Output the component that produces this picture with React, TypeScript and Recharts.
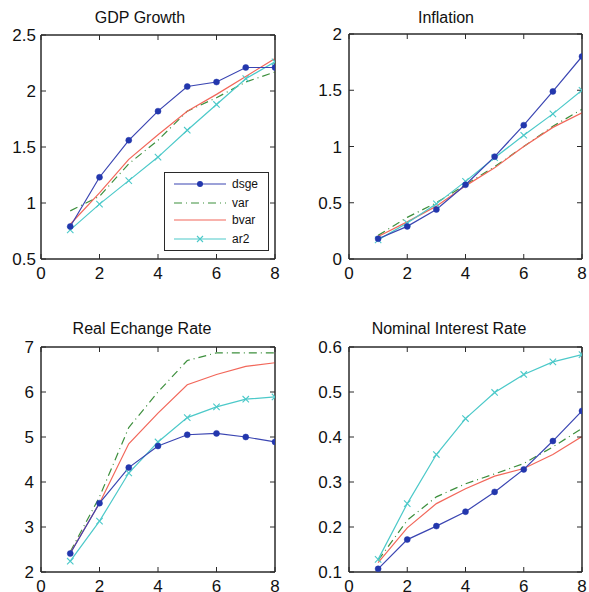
import React from 'react';
import { LineChart, Line, XAxis, YAxis, Legend, CartesianGrid } from 'recharts';

const horizons = [1, 2, 3, 4, 5, 6, 7, 8];
const xTicks = [0, 2, 4, 6, 8];

const gdpDsge = [0.79, 1.23, 1.56, 1.82, 2.04, 2.08, 2.21, 2.21];
const gdpVar = [0.93, 1.06, 1.35, 1.56, 1.82, 1.94, 2.08, 2.17];
const gdpBvar = [0.81, 1.09, 1.39, 1.61, 1.82, 1.97, 2.13, 2.29];
const gdpAr2 = [0.76, 0.99, 1.2, 1.41, 1.65, 1.88, 2.11, 2.26];
const gdpTicks = [0.5, 1, 1.5, 2, 2.5];

const infDsge = [0.18, 0.29, 0.44, 0.66, 0.91, 1.19, 1.49, 1.8];
const infVar = [0.21, 0.37, 0.5, 0.66, 0.82, 1.0, 1.18, 1.33];
const infBvar = [0.2, 0.33, 0.47, 0.65, 0.81, 1.0, 1.17, 1.3];
const infAr2 = [0.17, 0.32, 0.49, 0.69, 0.9, 1.1, 1.29, 1.5];
const infTicks = [0, 0.5, 1, 1.5, 2];

const rerDsge = [2.41, 3.53, 4.32, 4.8, 5.05, 5.08, 5.0, 4.89];
const rerVar = [2.45, 3.67, 5.21, 6.0, 6.7, 6.87, 6.87, 6.87];
const rerBvar = [2.42, 3.53, 4.85, 5.53, 6.16, 6.39, 6.57, 6.65];
const rerAr2 = [2.24, 3.13, 4.2, 4.89, 5.43, 5.67, 5.84, 5.89];
const rerTicks = [2, 3, 4, 5, 6, 7];

const nirDsge = [0.107, 0.172, 0.202, 0.234, 0.278, 0.328, 0.391, 0.458];
const nirVar = [0.126, 0.215, 0.267, 0.296, 0.318, 0.341, 0.378, 0.419];
const nirBvar = [0.121, 0.198, 0.252, 0.285, 0.313, 0.33, 0.361, 0.401];
const nirAr2 = [0.128, 0.252, 0.361, 0.441, 0.499, 0.539, 0.567, 0.583];
const nirTicks = [0.1, 0.2, 0.3, 0.4, 0.5, 0.6];

const seriesNames = ['dsge', 'var', 'bvar', 'ar2'];

const FONT = '"Liberation Sans", Arial, Helvetica, sans-serif';
const BLUE = '#3a45b2';
const BLUE_DOT = '#2337ad';
const GREEN = '#3d8f3d';
const RED = '#f2675a';
const CYAN = '#4cc9c9';
const AXIS = '#2a2a2a';

const styles: Record<string, any> = {
  dsge: { stroke: BLUE, dash: undefined },
  var: { stroke: GREEN, dash: '8 4 1 4' },
  bvar: { stroke: RED, dash: undefined },
  ar2: { stroke: CYAN, dash: undefined },
};

function buildRows(d: number[], v: number[], b: number[], a: number[]) {
  return horizons.map((h, i) => ({ h, dsge: d[i], var: v[i], bvar: b[i], ar2: a[i] }));
}

const frameRows = (args: any) => {
  const o = args && args.offset;
  if (!o) return [];
  return [o.top, o.top + o.height];
};
const frameCols = (args: any) => {
  const o = args && args.offset;
  if (!o) return [];
  return [o.left, o.left + o.width];
};

const CrossDot = (props: any) => {
  const { cx, cy, index } = props;
  if (cx == null || cy == null) return null;
  const s = 3.2;
  return (
    <path
      key={`x-${index}`}
      d={`M${cx - s},${cy - s}L${cx + s},${cy + s}M${cx - s},${cy + s}L${cx + s},${cy - s}`}
      stroke={CYAN}
      strokeWidth={1.1}
      fill="none"
    />
  );
};

const LegendBox = (props: any) => {
  const payload = props.payload || [];
  const names = seriesNames.filter((n) => payload.some((p: any) => p.value === n));
  const rowY = [12, 31, 48, 67];
  return (
    <div
      style={{
        width: 105,
        height: 79,
        boxSizing: 'border-box',
        border: `1px solid ${AXIS}`,
        background: '#fff',
        position: 'relative',
        fontFamily: FONT,
        fontSize: 12,
        color: '#111',
      }}
    >
      <svg width={103} height={77} style={{ position: 'absolute', left: 0, top: 0 }}>
        {names.map((n, i) => {
          const y = rowY[i] - 1;
          const st = styles[n];
          return (
            <g key={n}>
              <line x1={9} x2={61} y1={y} y2={y} stroke={st.stroke} strokeWidth={1.2} strokeDasharray={st.dash} />
              {n === 'dsge' && <circle cx={35} cy={y} r={3} fill={BLUE_DOT} />}
              {n === 'ar2' && (
                <path d={`M32,${y - 3}L38,${y + 3}M32,${y + 3}L38,${y - 3}`} stroke={CYAN} strokeWidth={1.1} />
              )}
              <text x={67} y={y + 4} fontFamily={FONT} fontSize={12} fill="#111">
                {n}
              </text>
            </g>
          );
        })}
      </svg>
    </div>
  );
};

type PanelProps = {
  left: number;
  top: number;
  width: number;
  height: number;
  marginTop: number;
  marginRight: number;
  yAxisWidth: number;
  xAxisHeight: number;
  yTickMargin: number;
  domain: [number, number];
  yTicks: number[];
  rows: any[];
  title: string;
  titleX: number;
  titleY: number;
  legend?: boolean;
};

const tickStyle = { fill: '#111', fontSize: 17, fontFamily: FONT };

function Panel(p: PanelProps) {
  return (
    <>
      <div
        style={{
          position: 'absolute',
          left: p.titleX - 120,
          top: p.titleY - 10,
          width: 240,
          height: 20,
          lineHeight: '20px',
          textAlign: 'center',
          fontFamily: FONT,
          fontSize: 16,
          color: '#111',
        }}
      >
        {p.title}
      </div>
      <div style={{ position: 'absolute', left: p.left, top: p.top }}>
        <LineChart
          width={p.width}
          height={p.height}
          data={p.rows}
          margin={{ top: p.marginTop - 1, right: p.marginRight - 1, bottom: 0, left: 0 }}
        >
          <CartesianGrid
            stroke={AXIS}
            strokeOpacity={1}
            fill="none"
            horizontalCoordinatesGenerator={frameRows}
            verticalCoordinatesGenerator={frameCols}
          />
          <XAxis
            dataKey="h"
            type="number"
            domain={[0, 8]}
            ticks={xTicks}
            interval={0}
            height={p.xAxisHeight}
            tickSize={-5}
            tickMargin={13}
            tick={tickStyle}
            stroke={AXIS}
            allowDataOverflow
          />
          <XAxis
            xAxisId="top"
            orientation="top"
            dataKey="h"
            type="number"
            domain={[0, 8]}
            ticks={xTicks}
            interval={0}
            height={1}
            tickSize={-5}
            tickFormatter={() => ''}
            stroke={AXIS}
            allowDataOverflow
          />
          <YAxis
            type="number"
            domain={p.domain}
            ticks={p.yTicks}
            interval={0}
            width={p.yAxisWidth}
            tickSize={-5}
            tickMargin={p.yTickMargin}
            tick={tickStyle}
            stroke={AXIS}
            allowDataOverflow
          />
          <YAxis
            yAxisId="right"
            orientation="right"
            type="number"
            domain={p.domain}
            ticks={p.yTicks}
            interval={0}
            width={1}
            tickSize={-5}
            tickFormatter={() => ''}
            stroke={AXIS}
            allowDataOverflow
          />
          <Line
            dataKey="var"
            name="var"
            xAxisId="top"
            yAxisId="right"
            stroke={GREEN}
            strokeWidth={1.2}
            strokeDasharray="8 4 1 4"
            dot={false}
            isAnimationActive={false}
          />
          <Line
            dataKey="bvar"
            name="bvar"
            stroke={RED}
            strokeWidth={1.2}
            dot={false}
            isAnimationActive={false}
          />
          <Line
            dataKey="ar2"
            name="ar2"
            stroke={CYAN}
            strokeWidth={1.2}
            dot={CrossDot}
            isAnimationActive={false}
          />
          <Line
            dataKey="dsge"
            name="dsge"
            stroke={BLUE}
            strokeWidth={1.2}
            dot={{ r: 3, fill: BLUE_DOT, stroke: BLUE_DOT, strokeWidth: 0.5 }}
            isAnimationActive={false}
          />
          {p.legend && (
            <Legend
              layout="vertical"
              align="center"
              verticalAlign="middle"
              content={LegendBox}
              wrapperStyle={{ left: 164, top: 172, width: 105, height: 79 }}
            />
          )}
        </LineChart>
      </div>
    </>
  );
}

export default function App() {
  return (
    <div
      style={{
        position: 'absolute',
        left: 0,
        top: 0,
        width: 589,
        height: 592,
        background: '#fff',
        overflow: 'hidden',
      }}
    >
      <Panel
        left={0}
        top={0}
        width={295}
        height={295}
        marginTop={35}
        marginRight={20}
        yAxisWidth={41}
        xAxisHeight={36}
        yTickMargin={10}
        domain={[0.5, 2.5]}
        yTicks={gdpTicks}
        rows={buildRows(gdpDsge, gdpVar, gdpBvar, gdpAr2)}
        title="GDP Growth"
        titleX={140}
        titleY={17.5}
        legend
      />
      <Panel
        left={295}
        top={0}
        width={294}
        height={295}
        marginTop={34}
        marginRight={7}
        yAxisWidth={54}
        xAxisHeight={36}
        yTickMargin={12}
        domain={[0, 2]}
        yTicks={infTicks}
        rows={buildRows(infDsge, infVar, infBvar, infAr2)}
        title="Inflation"
        titleX={446}
        titleY={17.5}
      />
      <Panel
        left={0}
        top={300}
        width={295}
        height={292}
        marginTop={47}
        marginRight={20}
        yAxisWidth={41}
        xAxisHeight={20}
        yTickMargin={12}
        domain={[2, 7]}
        yTicks={rerTicks}
        rows={buildRows(rerDsge, rerVar, rerBvar, rerAr2)}
        title="Real Echange Rate"
        titleX={142}
        titleY={329}
      />
      <Panel
        left={295}
        top={300}
        width={294}
        height={292}
        marginTop={47}
        marginRight={7}
        yAxisWidth={54}
        xAxisHeight={20}
        yTickMargin={12}
        domain={[0.1, 0.6]}
        yTicks={nirTicks}
        rows={buildRows(nirDsge, nirVar, nirBvar, nirAr2)}
        title="Nominal Interest Rate"
        titleX={449}
        titleY={329}
      />
    </div>
  );
}
